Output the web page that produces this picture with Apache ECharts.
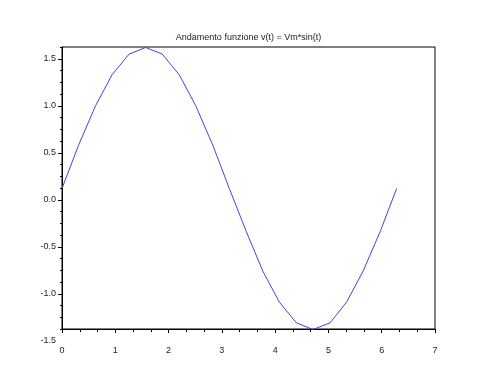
<!DOCTYPE html>
<html>
<head>
<meta charset="utf-8">
<script src="https://cdn.jsdelivr.net/npm/echarts@6/dist/echarts.min.js"></script>
<style>html,body{margin:0;padding:0;background:#fff}#c{width:497px;height:376px}</style>
</head>
<body>
<div id="c"></div>
<script>
var titleText = 'Andamento funzione v(t) = Vm*sin(t)';
var tValues = [0, 0.31, 0.63, 0.94, 1.26, 1.57, 1.88, 2.20, 2.51, 2.83, 3.14, 3.46, 3.77, 4.08, 4.40, 4.71, 5.03, 5.34, 5.65, 5.97, 6.28];
var vValues = [0.12, 0.58, 1.00, 1.33, 1.55, 1.62, 1.55, 1.33, 1.00, 0.58, 0.12, -0.34, -0.76, -1.09, -1.31, -1.38, -1.31, -1.09, -0.76, -0.34, 0.12];
var yMajorTicks = [-1.0, -0.5, 0.0, 0.5, 1.0, 1.5];
var yMinorTicks = [-1.375, -1.25, -1.125, -0.875, -0.75, -0.625, -0.375, -0.25, -0.125, 0.125, 0.25, 0.375, 0.625, 0.75, 0.875, 1.125, 1.25, 1.375, 1.625];
var yLabelValues = [-1.5, -1.0, -0.5, 0.0, 0.5, 1.0, 1.5];

var font = 'Liberation Sans, Arial, sans-serif';
var txt = '#222';
var chart = echarts.init(document.getElementById('c'), null, {renderer: 'canvas'});
chart.setOption({
  animation: false,
  backgroundColor: '#fff',
  title: {
    text: titleText, left: 'center', top: 28,
    textStyle: {fontSize: 9, fontWeight: 'normal', color: txt, fontFamily: font}
  },
  grid: [
    {left: 62, top: 47, width: 373, height: 282, show: true, borderColor: '#000', borderWidth: 1, backgroundColor: 'transparent'},
    {left: 62, top: 47, width: 373, height: 294, show: false}
  ],
  xAxis: [
    {
      type: 'value', gridIndex: 0, min: 0, max: 7, interval: 1,
      axisLine: {show: true, onZero: false, lineStyle: {color: '#000', width: 1}},
      axisTick: {show: true, length: 4, lineStyle: {color: '#000'}},
      minorTick: {show: true, splitNumber: 3, length: 3, lineStyle: {color: '#000'}},
      splitLine: {show: false},
      axisLabel: {margin: 17, fontSize: 9, color: txt, fontFamily: font, showMaxLabel: true, showMinLabel: true}
    },
    {type: 'value', gridIndex: 1, min: 0, max: 7, show: false}
  ],
  yAxis: [
    {
      type: 'value', gridIndex: 0, min: -1.375, max: 1.625,
      axisLine: {show: true, onZero: false, lineStyle: {color: '#000', width: 1}},
      axisTick: {show: true, length: 4, customValues: yMajorTicks, lineStyle: {color: '#000'}},
      axisLabel: {show: false},
      splitLine: {show: false}
    },
    {
      type: 'value', gridIndex: 0, min: -1.375, max: 1.625, position: 'left', offset: 0,
      axisLine: {show: false, onZero: false},
      axisTick: {show: true, length: 2, customValues: yMinorTicks, lineStyle: {color: '#000'}},
      axisLabel: {show: false},
      splitLine: {show: false}
    },
    {
      type: 'value', gridIndex: 1, min: -1.5, max: 1.625,
      axisLine: {show: false, onZero: false},
      axisTick: {show: false},
      splitLine: {show: false},
      axisLabel: {
        show: true, margin: 6, fontSize: 9, color: txt, fontFamily: font,
        customValues: yLabelValues,
        formatter: function (v) { return v.toFixed(1); }
      }
    }
  ],
  series: [{
    type: 'line', xAxisIndex: 0, yAxisIndex: 0,
    data: tValues.map(function (t, i) { return [t, vValues[i]]; }),
    showSymbol: false, symbol: 'none',
    lineStyle: {color: '#4444dd', width: 1},
    clip: false
  }]
});
</script>
</body>
</html>
